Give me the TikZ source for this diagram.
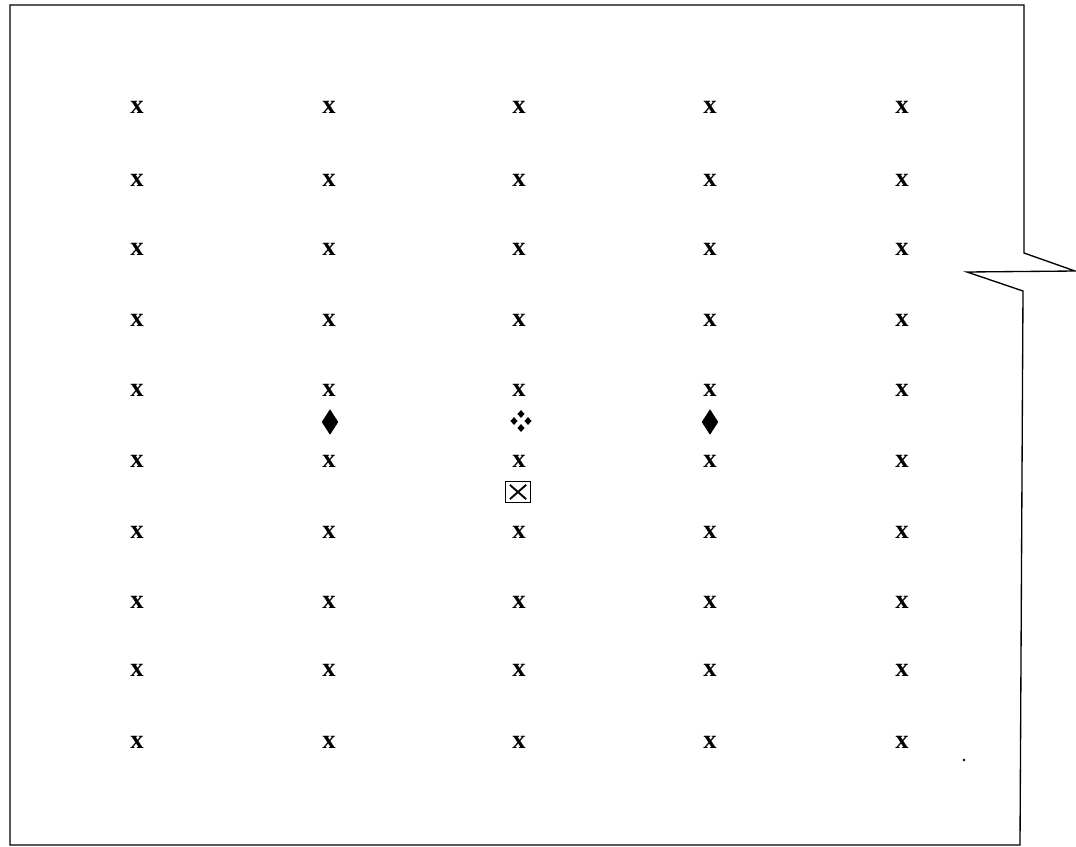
\documentclass[tikz,border=0pt]{standalone}
\usepackage{fontspec}
\setmainfont{Liberation Serif}
\usetikzlibrary{shapes.geometric}
\begin{document}
\begin{tikzpicture}[x=0.75pt,y=-0.75pt,
  xmark/.style={font=\fontsize{20}{20}\selectfont\bfseries, inner sep=0pt},
  frameline/.style={line width=1pt, line join=miter},
  bigdiamond/.style={diamond, fill=black, draw=black, inner sep=0pt, minimum width=12pt, minimum height=18.5pt},
  smalldiamond/.style={diamond, fill=black, inner sep=0pt, minimum width=5.5pt, minimum height=6pt}]
\useasboundingbox (0,0) rectangle (1076,847);
% frame with break mark
\draw[frameline] (1024,253) -- (1024,5) -- (10,5) -- (10,845) -- (1020,845) -- (1023,291)
  -- (967,272) -- (1075,271) -- cycle;
% grid of x marks
\foreach \c/\xx in {1/137,2/329,3/519,4/710,5/902}{
  \foreach \r/\yy in {1/107,2/180,3/249,4/320,5/390,6/461,7/532,8/602,9/670,10/742}{
    \node[xmark] (x\c-\r) at (\xx,\yy) {x};
  }
}
% symbols
\node[bigdiamond] (d1) at (330,422) {};
\node[bigdiamond] (d2) at (710,422) {};
\node[smalldiamond] (q1) at (521,414) {};
\node[smalldiamond] (q2) at (521,428) {};
\node[smalldiamond] (q3) at (514,421) {};
\node[smalldiamond] (q4) at (528,421) {};
\node[draw, line width=1.2pt, minimum width=19pt, minimum height=15.5pt, inner sep=0pt] (bx) at (518,492) {};
\draw[line width=1.4pt] ([shift={(4pt,-3pt)}]bx.north west) -- ([shift={(-4pt,3pt)}]bx.south east);
\draw[line width=1.4pt] ([shift={(-4pt,-3pt)}]bx.north east) -- ([shift={(4pt,3pt)}]bx.south west);
\fill (964,760) circle (1pt);
\end{tikzpicture}
\end{document}
